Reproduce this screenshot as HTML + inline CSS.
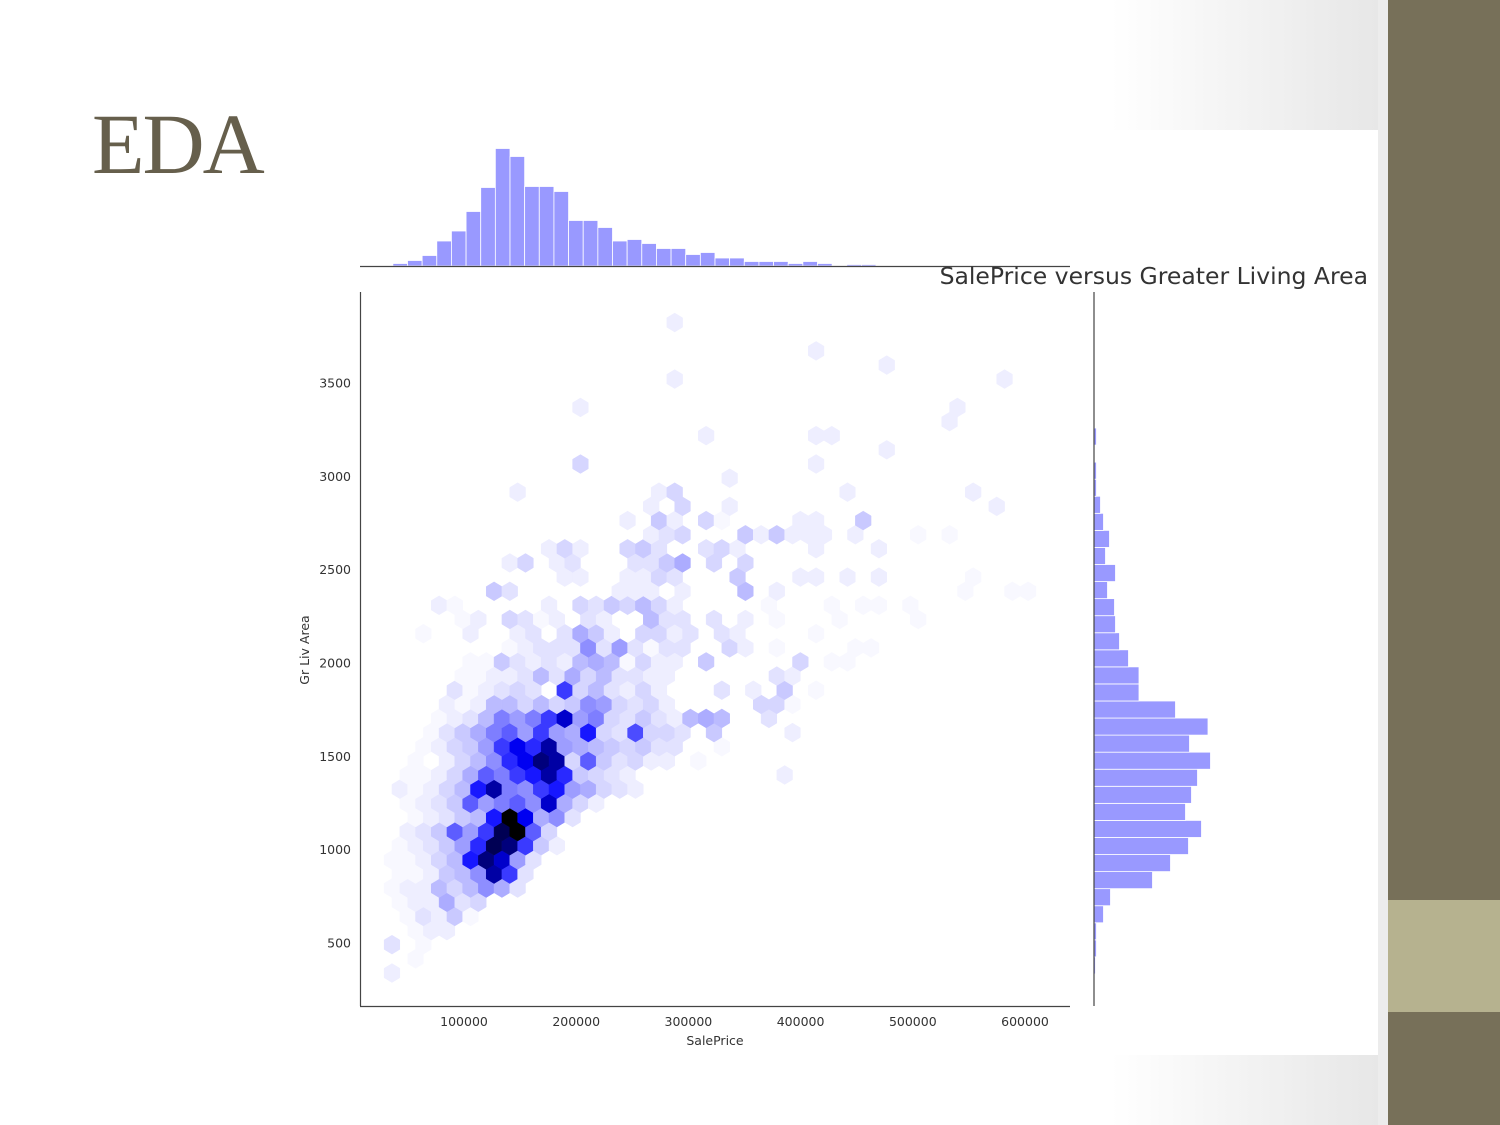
<!DOCTYPE html>
<html><head><meta charset="utf-8"><style>
html,body{margin:0;padding:0;width:1500px;height:1125px;overflow:hidden;background:#fff;}
svg{display:block;}
text{font-family:"DejaVu Sans","Liberation Sans",sans-serif;}
</style></head><body>
<svg id="slide" width="1500" height="1125" viewBox="0 0 1500 1125">
<defs>
<linearGradient id="bgGrad" x1="0" x2="1" y1="0" y2="0">
<stop offset="0" stop-color="#ffffff"/><stop offset="0.8" stop-color="#ffffff"/><stop offset="1" stop-color="#e6e6e6"/>
</linearGradient>
</defs>
<rect x="0" y="0" width="1388" height="1125" fill="url(#bgGrad)"/>
<rect x="0" y="130" width="1378" height="925" fill="#ffffff"/>
<rect x="1378" y="0" width="10" height="1125" fill="#ececec"/>
<rect x="1388" y="0" width="112" height="1125" fill="#777059"/>
<rect x="1388" y="900" width="112" height="112" fill="#b6b28f"/>
<text x="92" y="173" font-family="Liberation Serif, serif" style="font-family:'Liberation Serif',serif" font-size="86" letter-spacing="-2" fill="#665f4c">EDA</text>
<g id="chart"></g>
</svg>
<script>
// ---- data ----
// hexbin cells: price in k$, living area in sq ft, count
const hexPrice = [
35.8,
56.8,
35.8,63.8,
56.8,70.8,84.8,
49.8,63.8,77.8,91.8,105.8,
42.8,56.8,70.8,84.8,98.8,112.8,
35.8,49.8,63.8,77.8,91.8,105.8,119.8,133.8,147.8,
42.8,56.8,70.8,84.8,98.8,112.8,126.8,140.8,154.8,
35.8,49.8,63.8,77.8,91.8,105.8,119.8,133.8,147.8,161.8,
42.8,56.8,70.8,84.8,98.8,112.8,126.8,140.8,154.8,168.8,182.8,
49.8,63.8,77.8,91.8,105.8,119.8,133.8,147.8,161.8,175.8,
56.8,70.8,84.8,98.8,112.8,126.8,140.8,154.8,168.8,182.8,196.8,
49.8,63.8,77.8,91.8,105.8,119.8,133.8,147.8,161.8,175.8,189.8,203.8,217.8,
42.8,56.8,70.8,84.8,98.8,112.8,126.8,140.8,154.8,168.8,182.8,196.8,210.8,224.8,238.8,252.8,
49.8,63.8,77.8,91.8,105.8,119.8,133.8,147.8,161.8,175.8,189.8,203.8,217.8,231.8,245.8,385.8,
56.8,84.8,98.8,112.8,126.8,140.8,154.8,168.8,182.8,196.8,210.8,224.8,238.8,252.8,266.8,280.8,308.8,
63.8,77.8,91.8,105.8,119.8,133.8,147.8,161.8,175.8,189.8,203.8,217.8,231.8,245.8,259.8,273.8,287.8,329.8,
70.8,84.8,98.8,112.8,126.8,140.8,154.8,168.8,182.8,196.8,210.8,224.8,238.8,252.8,266.8,280.8,294.8,322.8,392.8,
77.8,91.8,105.8,119.8,133.8,147.8,161.8,175.8,189.8,203.8,217.8,231.8,245.8,259.8,273.8,287.8,301.8,315.8,329.8,371.8,
84.8,98.8,112.8,126.8,140.8,154.8,168.8,182.8,196.8,210.8,224.8,238.8,252.8,266.8,280.8,364.8,378.8,392.8,
91.8,105.8,119.8,133.8,147.8,161.8,189.8,203.8,217.8,231.8,245.8,259.8,273.8,329.8,357.8,385.8,413.8,
98.8,112.8,126.8,140.8,154.8,168.8,182.8,196.8,210.8,224.8,238.8,252.8,266.8,280.8,378.8,392.8,
105.8,119.8,133.8,147.8,161.8,175.8,189.8,203.8,217.8,231.8,245.8,259.8,273.8,287.8,315.8,399.8,427.8,441.8,
140.8,154.8,168.8,182.8,196.8,210.8,224.8,238.8,252.8,266.8,280.8,294.8,336.8,350.8,378.8,448.8,462.8,
63.8,105.8,147.8,161.8,189.8,203.8,217.8,231.8,259.8,273.8,287.8,301.8,329.8,343.8,413.8,
98.8,112.8,140.8,154.8,168.8,182.8,210.8,224.8,266.8,280.8,294.8,322.8,350.8,378.8,434.8,504.8,
77.8,91.8,175.8,203.8,217.8,231.8,245.8,259.8,273.8,287.8,371.8,427.8,455.8,469.8,497.8,
126.8,140.8,238.8,252.8,266.8,294.8,350.8,378.8,546.8,588.8,602.8,
189.8,203.8,245.8,259.8,273.8,287.8,343.8,399.8,413.8,441.8,469.8,553.8,
140.8,154.8,182.8,196.8,252.8,266.8,280.8,294.8,322.8,350.8,
175.8,189.8,203.8,245.8,259.8,273.8,315.8,329.8,343.8,413.8,469.8,
266.8,280.8,294.8,350.8,364.8,378.8,392.8,406.8,420.8,448.8,504.8,532.8,
245.8,273.8,287.8,315.8,329.8,399.8,413.8,455.8,
266.8,294.8,336.8,574.8,
147.8,273.8,287.8,441.8,553.8,
336.8,
203.8,413.8,
476.8,
315.8,413.8,427.8,
532.8,
203.8,539.8,
287.8,581.8,
476.8,
413.8,
287.8
];
const hexArea = [
339,
415,
491,491,
566,566,566,
642,642,642,642,642,
718,718,718,718,718,718,
794,794,794,794,794,794,794,794,794,
869,869,869,869,869,869,869,869,869,
945,945,945,945,945,945,945,945,945,945,
1021,1021,1021,1021,1021,1021,1021,1021,1021,1021,1021,
1097,1097,1097,1097,1097,1097,1097,1097,1097,1097,
1172,1172,1172,1172,1172,1172,1172,1172,1172,1172,1172,
1248,1248,1248,1248,1248,1248,1248,1248,1248,1248,1248,1248,1248,
1324,1324,1324,1324,1324,1324,1324,1324,1324,1324,1324,1324,1324,1324,1324,1324,
1400,1400,1400,1400,1400,1400,1400,1400,1400,1400,1400,1400,1400,1400,1400,1400,
1475,1475,1475,1475,1475,1475,1475,1475,1475,1475,1475,1475,1475,1475,1475,1475,1475,
1551,1551,1551,1551,1551,1551,1551,1551,1551,1551,1551,1551,1551,1551,1551,1551,1551,1551,
1627,1627,1627,1627,1627,1627,1627,1627,1627,1627,1627,1627,1627,1627,1627,1627,1627,1627,1627,
1703,1703,1703,1703,1703,1703,1703,1703,1703,1703,1703,1703,1703,1703,1703,1703,1703,1703,1703,1703,
1778,1778,1778,1778,1778,1778,1778,1778,1778,1778,1778,1778,1778,1778,1778,1778,1778,1778,
1854,1854,1854,1854,1854,1854,1854,1854,1854,1854,1854,1854,1854,1854,1854,1854,1854,
1930,1930,1930,1930,1930,1930,1930,1930,1930,1930,1930,1930,1930,1930,1930,1930,
2006,2006,2006,2006,2006,2006,2006,2006,2006,2006,2006,2006,2006,2006,2006,2006,2006,2006,
2081,2081,2081,2081,2081,2081,2081,2081,2081,2081,2081,2081,2081,2081,2081,2081,2081,
2157,2157,2157,2157,2157,2157,2157,2157,2157,2157,2157,2157,2157,2157,2157,
2233,2233,2233,2233,2233,2233,2233,2233,2233,2233,2233,2233,2233,2233,2233,2233,
2309,2309,2309,2309,2309,2309,2309,2309,2309,2309,2309,2309,2309,2309,2309,
2384,2384,2384,2384,2384,2384,2384,2384,2384,2384,2384,
2460,2460,2460,2460,2460,2460,2460,2460,2460,2460,2460,2460,
2536,2536,2536,2536,2536,2536,2536,2536,2536,2536,
2612,2612,2612,2612,2612,2612,2612,2612,2612,2612,2612,
2687,2687,2687,2687,2687,2687,2687,2687,2687,2687,2687,2687,
2763,2763,2763,2763,2763,2763,2763,2763,
2839,2839,2839,2839,
2915,2915,2915,2915,2915,
2990,
3066,3066,
3142,
3218,3218,3218,
3293,
3369,3369,
3521,3521,
3596,
3672,
3824
];
const hexCount = [
2,
1,
3,1,
1,2,2,
1,3,2,5,1,
1,2,2,7,3,4,
1,2,2,6,4,6,9,7,3,
1,1,2,5,6,9,22,14,3,
1,1,2,4,6,16,24,20,8,3,
1,2,3,5,8,15,26,24,14,5,2,
2,3,5,12,8,14,26,30,12,4,
1,2,3,5,6,16,30,18,7,9,3,
1,2,3,5,12,8,10,12,9,20,7,4,2,
2,1,2,4,6,16,22,10,9,14,16,8,7,4,3,2,
1,1,2,4,7,12,10,14,16,22,15,5,4,3,2,2,
1,2,4,6,9,15,18,24,22,4,12,5,3,4,2,2,1,
1,2,4,5,8,14,18,15,22,8,7,6,5,4,5,3,3,1,
1,3,5,7,10,12,8,14,8,7,16,4,3,13,4,4,3,5,2,
1,2,3,6,10,8,10,14,20,8,10,4,3,5,3,2,6,7,6,3,
2,1,2,6,6,4,6,4,5,9,8,4,3,4,2,4,4,1,
3,1,2,3,4,3,14,4,6,3,2,4,2,3,2,5,1,
1,1,2,2,3,6,3,7,4,6,3,3,2,2,3,2,
1,1,5,3,2,3,2,6,7,6,1,4,2,2,5,4,1,1,
1,2,3,3,3,9,3,8,3,1,3,3,4,2,1,1,1,
1,2,2,3,3,7,5,2,4,4,2,3,3,2,1,
1,2,4,3,1,2,3,2,6,3,3,3,2,1,1,1,
2,1,2,4,3,5,4,6,4,2,1,1,1,1,1,
5,3,2,2,2,2,6,2,1,1,1,
2,2,2,2,4,3,5,2,2,2,2,1,
2,4,2,3,3,3,5,7,4,4,
2,4,2,4,5,3,3,4,2,2,2,
2,3,4,5,2,5,2,2,2,2,1,1,
2,5,2,4,1,2,2,5,
2,4,2,2,
2,2,4,2,2,
2,
4,2,
2,
2,2,2,
2,
2,2,
2,2,
2,
2,
2
];
const hexMaxCount = 30;
// top marginal histogram (SalePrice)
const priceBinStart = 36.6;   // k$
const priceBinWidth = 13.05;  // k$
const priceBinCounts = [5,11,21,50,70,109,157,235,219,159,159,149,91,91,77,50,53,45,35,35,23,27,16,16,9,9,9,5,9,5,0,3,3,1,1,1];
// right marginal histogram (Gr Liv Area)
const areaBinStart = 334;
const areaBinWidth = 91.4;
const areaBinCounts = [3,5,5,19,33,117,153,189,215,183,195,207,233,191,228,163,90,90,69,51,43,41,27,43,23,31,19,13,5,5,1,5,1,1,1,1,1,1];
// ticks
const xTickValues = [100000,200000,300000,400000,500000,600000];
const xTickLabels = ["100000","200000","300000","400000","500000","600000"];
const yTickValues = [500,1000,1500,2000,2500,3000,3500];
const yTickLabels = ["500","1000","1500","2000","2500","3000","3500"];

// ---- scales ----
const NS = "http://www.w3.org/2000/svg";
function xScale(priceK){ return 351.8 + priceK*1.122; }
function yScale(area){ return 1036.3 - area*0.186657; }
const topHistBase = 266, topHistPxPerCount = 0.5;
const rightHistBase = 1094, rightHistPxPerCount = 0.5;
function hexColor(c){
  let t = Math.pow(Math.min(1, c/hexMaxCount), 1.25);
  let r,b;
  if (t < 0.5){ r = Math.round(255*(1-2*t)); b = 255; }
  else { r = 0; b = Math.round(255*(2-2*t)); }
  return "rgb("+r+","+r+","+b+")";
}
function mk(tag, attrs){
  const e = document.createElementNS(NS, tag);
  for (const k in attrs) e.setAttribute(k, attrs[k]);
  return e;
}
const chart = document.getElementById("chart");

// hexbin
const hexG = mk("g", {});


chart.appendChild(hexG);
const hw = 7.85, hr = 9.43;
for (let i=0;i<hexPrice.length;i++){
  const cx = xScale(hexPrice[i]), cy = yScale(hexArea[i]);
  const pts = [[0,-hr],[hw,-hr/2],[hw,hr/2],[0,hr],[-hw,hr/2],[-hw,-hr/2]].map(p=>(cx+p[0]).toFixed(2)+","+(cy+p[1]).toFixed(2)).join(" ");
  const col = hexColor(hexCount[i]);
  const h = mk("polygon", {points: pts, fill: col, stroke: col, "stroke-width": 0.5});
  
  
  hexG.appendChild(h);
}

// top histogram
const topG = mk("g", {});


chart.appendChild(topG);
for (let i=0;i<priceBinCounts.length;i++){
  if (priceBinCounts[i] <= 0) continue;
  const x0 = xScale(priceBinStart + i*priceBinWidth), x1 = xScale(priceBinStart + (i+1)*priceBinWidth);
  const h = priceBinCounts[i]*topHistPxPerCount;
  const r = mk("rect", {x: x0, y: topHistBase-h, width: x1-x0, height: h, fill: "#9999ff", stroke: "#ffffff", "stroke-width": 0.8});
  
  
  topG.appendChild(r);
}
// right histogram
const rightG = mk("g", {});


chart.appendChild(rightG);
for (let i=0;i<areaBinCounts.length;i++){
  if (areaBinCounts[i] <= 0) continue;
  const y0 = yScale(areaBinStart + (i+1)*areaBinWidth), y1 = yScale(areaBinStart + i*areaBinWidth);
  const w = Math.max(0.6, areaBinCounts[i]*rightHistPxPerCount);
  const r = mk("rect", {x: rightHistBase, y: y0, width: w, height: y1-y0, fill: "#9999ff", stroke: "#ffffff", "stroke-width": 0.8});
  
  
  rightG.appendChild(r);
}

// axes lines
const axisLeft = mk("line", {x1:360.5, y1:292, x2:360.5, y2:1006, stroke:"#444", "stroke-width":1.2});


chart.appendChild(axisLeft);
const axisBottom = mk("line", {x1:360, y1:1006.5, x2:1070, y2:1006.5, stroke:"#444", "stroke-width":1.2});


chart.appendChild(axisBottom);
const topBase = mk("line", {x1:360, y1:266.5, x2:1070, y2:266.5, stroke:"#444", "stroke-width":1.2});


chart.appendChild(topBase);
const rightBase = mk("line", {x1:1094, y1:292, x2:1094, y2:1006, stroke:"#444", "stroke-width":1.2});


chart.appendChild(rightBase);

// ticks
for (let i=0;i<xTickValues.length;i++){
  const t = mk("text", {x: xScale(xTickValues[i]/1000), y: 1026, "text-anchor":"middle", "font-size":12.5, fill:"#333"});
  t.textContent = xTickLabels[i];
  
  
  chart.appendChild(t);
}
for (let i=0;i<yTickValues.length;i++){
  const t = mk("text", {x: 351, y: yScale(yTickValues[i])+4.5, "text-anchor":"end", "font-size":12.5, fill:"#333"});
  t.textContent = yTickLabels[i];
  
  
  chart.appendChild(t);
}
const xTitle = mk("text", {x:715, y:1045, "text-anchor":"middle", "font-size":12.5, fill:"#333"});
xTitle.textContent = "SalePrice";


chart.appendChild(xTitle);
const yTitle = mk("text", {x:0, y:0, "text-anchor":"middle", "font-size":12.5, fill:"#333", transform:"translate(309,650) rotate(-90)"});
yTitle.textContent = "Gr Liv Area";


chart.appendChild(yTitle);
const cTitle = mk("text", {x:1368, y:284, "text-anchor":"end", "font-size":23.5, fill:"#333"});
cTitle.textContent = "SalePrice versus Greater Living Area";


chart.appendChild(cTitle);
</script>
</body></html>
